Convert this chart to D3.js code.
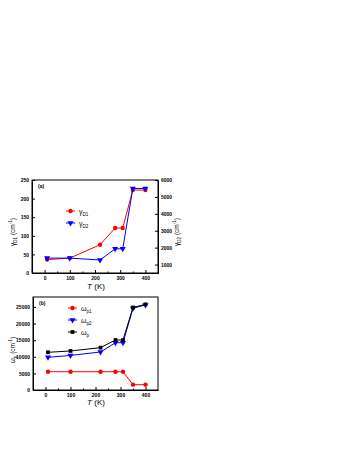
<!DOCTYPE html>
<html>
<head>
<meta charset="utf-8">
<script src="https://cdn.jsdelivr.net/npm/d3@7"></script>
<style>
  body { margin: 0; background: #fff; }
  svg { font-family: "Liberation Sans", Arial, sans-serif; }
  .tick text { font-size: 5px; font-weight: bold; }
</style>
</head>
<body>
<svg width="354" height="458"></svg>
<script>
// data
var temps = [10, 100, 220, 280, 310, 350, 400];
var gammaD1 = [36, 40, 76, 121, 121, 223, 223];
var gammaD2 = [1380, 1380, 1270, 1930, 1930, 5500, 5500];
var omegaP1 = [5500, 5500, 5500, 5500, 5500, 1600, 1600];
var omegaP2 = [9850, 10400, 11450, 14250, 14250, 24600, 25600];
var omegaP = [11350, 11750, 12750, 15050, 15050, 24850, 25800];
var xTicks = [0, 100, 200, 300, 400];

var svg = d3.select("svg");
var plain = d3.format("d");

function rows(ys) {
    return temps.map(function (t, i) { return { t: t, v: ys[i] }; });
}

function symbolFor(kind) {
    if (kind == "circle") return d3.symbol().type(d3.symbolCircle).size(15);
    if (kind == "tri") return d3.symbol().type(d3.symbolTriangle).size(16);
    return d3.symbol().type(d3.symbolSquare).size(14);
}

function drawSeries(g, x, y, ys, color, kind) {
    var line = d3.line().x(function (d) { return x(d.t); }).y(function (d) { return y(d.v); });
    g.append("path").datum(rows(ys))
        .attr("fill", "none").attr("stroke", color).attr("stroke-width", 1)
        .attr("d", line);
    g.selectAll(null).data(rows(ys)).enter().append("path")
        .attr("d", symbolFor(kind))
        .attr("fill", color)
        .attr("transform", function (d) {
            return "translate(" + x(d.t) + "," + y(d.v) + ")" + (kind == "tri" ? " rotate(180)" : "");
        });
}

function frame(x, y, top, bottom, left, right) {
    svg.append("g").attr("transform", "translate(0," + bottom + ")")
        .call(d3.axisBottom(x).tickValues(xTicks).tickSizeInner(-3).tickSizeOuter(0).tickPadding(3));
    svg.append("g").attr("transform", "translate(0," + bottom + ")")
        .call(d3.axisBottom(x).tickValues([-50, 50, 150, 250, 350]).tickSizeInner(-1.5).tickSizeOuter(0).tickFormat(""));
    svg.append("rect").attr("x", left).attr("y", top)
        .attr("width", right - left).attr("height", bottom - top)
        .attr("fill", "none").attr("stroke", "#000").attr("stroke-width", 1);
}

function yTitle(xpos, ypos, main, sub) {
    var t = svg.append("text").attr("transform", "translate(" + xpos + "," + ypos + ") rotate(-90)")
        .attr("text-anchor", "middle").attr("font-size", 6.5);
    t.append("tspan").text(main);
    t.append("tspan").attr("font-size", 4.5).attr("dy", 2).text(sub);
    t.append("tspan").attr("dy", -2).text(" (cm");
    t.append("tspan").attr("font-size", 4.5).attr("dy", -3).text("-1");
    t.append("tspan").attr("dy", 3).text(")");
}

function xTitle(xpos, ypos) {
    var t = svg.append("text").attr("x", xpos).attr("y", ypos)
        .attr("text-anchor", "middle").attr("font-size", 8);
    t.append("tspan").attr("font-style", "italic").text("T");
    t.append("tspan").text(" (K)");
}

function legendItem(g, xpos, ypos, color, kind, main, sub) {
    g.append("line").attr("x1", xpos).attr("x2", xpos + 9).attr("y1", ypos).attr("y2", ypos)
        .attr("stroke", color).attr("stroke-width", 1);
    g.append("path").attr("d", symbolFor(kind)).attr("fill", color)
        .attr("transform", "translate(" + (xpos + 4.5) + "," + ypos + ")" + (kind == "tri" ? " rotate(180)" : ""));
    var t = g.append("text").attr("x", xpos + 13).attr("y", ypos + 2.5).attr("font-size", 7);
    t.append("tspan").text(main);
    t.append("tspan").attr("font-size", 4.5).attr("dy", 2).text(sub);
}

// panel (a)
var xa = d3.scaleLinear().domain([-50, 450]).range([32, 158]);
var yaL = d3.scaleLinear().domain([0, 250]).range([273, 180]);
var yaR = d3.scaleLinear().domain([500, 6000]).range([273, 180]);

svg.append("g").attr("transform", "translate(32,0)")
    .call(d3.axisLeft(yaL).tickValues([0, 50, 100, 150, 200, 250]).tickFormat(plain).tickSizeInner(-3).tickSizeOuter(0).tickPadding(3));
svg.append("g").attr("transform", "translate(158,0)")
    .call(d3.axisRight(yaR).tickValues([1000, 2000, 3000, 4000, 5000, 6000]).tickFormat(plain).tickSizeInner(-3).tickSizeOuter(0).tickPadding(3));
frame(xa, yaL, 180, 273, 32, 158);

var ga = svg.append("g");
drawSeries(ga, xa, yaL, gammaD1, "#ff0000", "circle");
drawSeries(ga, xa, yaR, gammaD2, "#0000ff", "tri");
legendItem(ga, 66, 211, "#ff0000", "circle", "\u03b3", "D1");
legendItem(ga, 66, 223, "#0000ff", "tri", "\u03b3", "D2");
svg.append("text").attr("x", 38).attr("y", 188).attr("font-size", 5).attr("font-weight", "bold").text("(a)");
yTitle(15, 232, "\u03b3", "D1");
yTitle(179, 232, "\u03b3", "D2");
xTitle(96, 289);

// panel (b)
var xb = d3.scaleLinear().domain([-50, 450]).range([33, 158]);
var yb = d3.scaleLinear().domain([0, 28000]).range([390, 297]);

svg.append("g").attr("transform", "translate(33,0)")
    .call(d3.axisLeft(yb).tickValues([0, 5000, 10000, 15000, 20000, 25000]).tickFormat(plain).tickSizeInner(-3).tickSizeOuter(0).tickPadding(3));
frame(xb, yb, 297, 390, 33, 158);

var gb = svg.append("g");
drawSeries(gb, xb, yb, omegaP1, "#ff0000", "circle");
drawSeries(gb, xb, yb, omegaP2, "#0000ff", "tri");
drawSeries(gb, xb, yb, omegaP, "#000000", "square");
legendItem(gb, 68, 308, "#ff0000", "circle", "\u03c9", "p1");
legendItem(gb, 68, 320, "#0000ff", "tri", "\u03c9", "p2");
legendItem(gb, 68, 332, "#000000", "square", "\u03c9", "p");
svg.append("text").attr("x", 39).attr("y", 305).attr("font-size", 5).attr("font-weight", "bold").text("(b)");
yTitle(15, 350, "\u03c9", "p");
xTitle(96, 405);
</script>
</body>
</html>
